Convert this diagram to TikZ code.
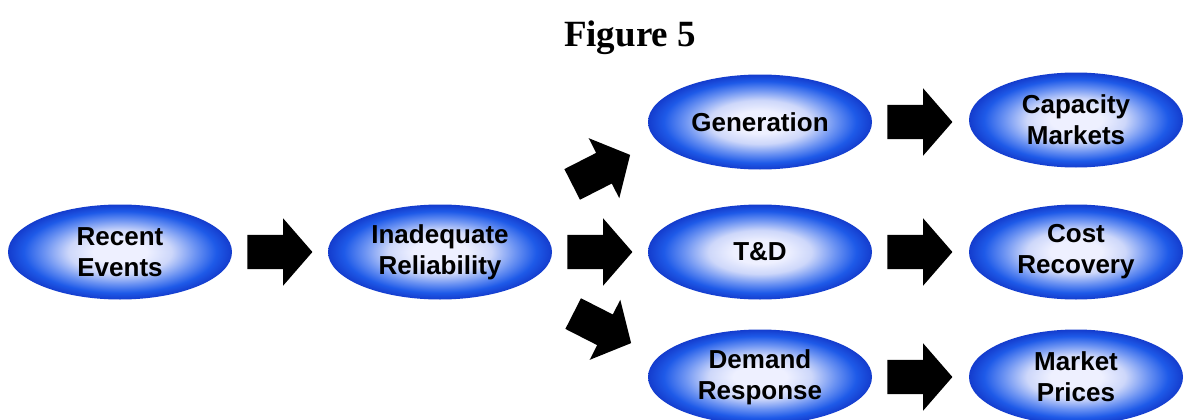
\documentclass[tikz,border=0pt]{standalone}
\usepackage{fontspec}
\setmainfont{Liberation Sans}
\newfontfamily\titlefont{Liberation Serif}
\usetikzlibrary{shapes.geometric,shapes.arrows,calc}
\definecolor{edgeblue}{RGB}{20,60,205}
\definecolor{midblue}{RGB}{30,90,232}
\definecolor{softblue}{RGB}{105,145,242}
\definecolor{lightblue}{RGB}{205,215,250}
\definecolor{centerwhite}{RGB}{238,240,255}
\pgfdeclareradialshading{ballblue}{\pgfpoint{0bp}{0bp}}{%
  color(0bp)=(centerwhite); color(6bp)=(centerwhite); color(11.5bp)=(lightblue);
  color(17bp)=(softblue); color(21.5bp)=(midblue); color(25bp)=(edgeblue); color(50bp)=(edgeblue)}
\tikzset{
  ball/.style={ellipse, shading=ballblue, minimum width=224pt, minimum height=95pt,
    inner sep=0pt, align=center, font=\fontsize{26}{31}\selectfont\bfseries, text=black},
  ballr/.style={ball, minimum width=214pt},
  blockarrow/.style={single arrow, fill=black, draw=none, minimum height=65pt,
    inner xsep=0pt, inner ysep=17pt, single arrow head extend=16.5pt,
    single arrow tip angle=98, single arrow head indent=0pt, anchor=tail}
}
\begin{document}
\begin{tikzpicture}[x=1pt,y=-1pt]
\useasboundingbox (0,0) rectangle (1188,420);
\fill[white] (0,0) rectangle (1188,420);
\node[font=\titlefont\fontsize{37}{40}\selectfont\bfseries, anchor=base] (title) at (630,47) {Figure 5};
\node[ball] (recent) at (120,252) {Recent\\Events};
\node[ball] (inad) at (440,252) {Inadequate\\Reliability};
\node[ball] (gen) at (760,122) {Generation};
\node[ball] (td) at (760,252) {T\&D};
\node[ball] (dr) at (760,377) {Demand\\Response};
\node[ballr] (cap) at (1076,120) {Capacity\\Markets};
\node[ballr] (cost) at (1076,252) {Cost\\Recovery};
\node[ballr] (mp) at (1076,377) {Market\\Prices};
\node[blockarrow] (a1) at ($(recent.east)+(15,0)$) {};
\node[blockarrow] (a2) at ($(inad.east)+(15,0)$) {};
\node[blockarrow, rotate=27] (a3) at (572,184.5) {};
\node[blockarrow, rotate=-27] (a4) at (573,313.5) {};
\node[blockarrow] (a5) at ($(gen.east)+(15,0)$) {};
\node[blockarrow] (a6) at ($(td.east)+(15,0)$) {};
\node[blockarrow] (a7) at ($(dr.east)+(15,0)$) {};
\end{tikzpicture}
\end{document}
